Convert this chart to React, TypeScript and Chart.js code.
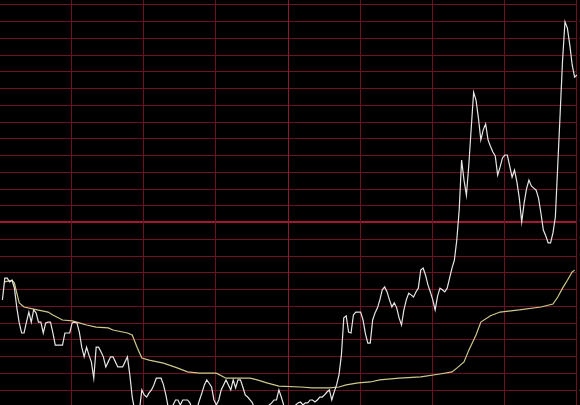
import React, { useEffect, useRef } from "react";
import { Chart, registerables } from "chart.js";

Chart.register(...registerables);

// right-axis percent ticks (labels are clipped by the window edge)
const pctTicks = [5.2, 4.8, 4.4, 4.0, 3.6, 3.2, 2.8, 2.4, 2.0, 1.6, 1.2, 0.8, 0.4, 0, -0.4, -0.8, -1.2, -1.6, -2.0, -2.4, -2.8, -3.2, -3.6, -4.0, -4.4];
// vertical time grid (minutes since open)
const timeGrid = [30, 60, 90, 120, 150, 180, 210, 240];

// price line: one value per minute, minutes 1..240
const priceMinutes = Array.from({ length: 240 }, (_, i) => i + 1);
const pricePct = [
  -1.86, -1.34, -1.34, -1.43, -1.39, -1.58, -2.05, -2.41, -2.65, -2.65,
  -2.39, -2.15, -2.39, -2.10, -2.17, -2.39, -2.39, -2.65, -2.41, -2.39,
  -2.39, -2.65, -2.94, -2.94, -2.94, -2.94, -2.65, -2.65, -2.65, -2.41,
  -2.39, -2.41, -2.63, -2.99, -3.22, -2.99, -3.18, -3.34, -3.73, -2.99,
  -2.99, -3.10, -3.22, -3.46, -3.34, -3.22, -3.22, -3.34, -3.46, -3.46,
  -3.46, -3.34, -3.22, -3.65, -4.18, -4.49, -4.61, -4.49, -4.01, -4.13,
  -4.18, -4.08, -4.01, -3.89, -3.73, -3.73, -3.73, -3.89, -4.13, -4.44,
  -4.54, -4.37, -4.25, -4.25, -4.37, -4.25, -4.25, -4.25, -4.32, -4.49,
  -4.54, -4.44, -4.25, -4.08, -3.89, -3.77, -3.85, -3.94, -4.25, -4.37,
  -4.25, -4.01, -3.89, -3.77, -3.89, -4.01, -3.77, -3.96, -3.77, -3.77,
  -3.94, -4.13, -4.18, -4.25, -4.32, -4.49, -4.54, -4.54, -4.49, -4.44,
  -4.40, -4.37, -4.32, -4.25, -4.25, -4.01, -4.18, -4.37, -4.49, -4.54,
  -4.49, -4.44, -4.37, -4.32, -4.30, -4.37, -4.32, -4.32, -4.25, -4.25,
  -4.30, -4.25, -4.18, -4.18, -4.13, -4.06, -4.01, -4.25, -4.06, -3.89,
  -3.65, -3.18, -2.29, -2.24, -2.63, -2.65, -2.22, -2.15, -2.15, -2.15,
  -2.34, -2.67, -2.89, -2.89, -2.34, -2.17, -2.05, -1.86, -1.62, -1.55,
  -1.67, -1.86, -2.03, -1.93, -2.05, -2.29, -2.46, -2.10, -1.86, -1.70,
  -1.74, -1.79, -1.67, -1.58, -1.15, -1.10, -1.27, -1.50, -1.67, -1.86,
  -2.10, -1.77, -1.58, -1.62, -1.67, -1.58, -1.34, -1.10, -0.91, -0.43,
  0.29, 1.48, 1.00, 0.64, 1.36, 2.24, 3.10, 2.91, 2.48, 1.96,
  2.20, 2.34, 1.96, 1.81, 1.67, 1.58, 1.12, 1.31, 1.53, 1.60,
  1.60, 1.34, 1.07, 1.24, 0.96, 0.57, 0.00, 0.45, 0.79, 1.00,
  0.86, 0.81, 0.76, 0.57, 0.21, -0.19, -0.33, -0.50, -0.50, -0.26,
  0.12, 1.36, 2.60, 3.87, 4.78, 4.63, 4.23, 3.75, 3.46, 3.51,
];

// average-price line
const avgMinutes = [2, 5, 6, 7, 8, 10, 14, 20, 22, 26, 30, 33, 36, 40, 45, 47, 53, 55, 57, 59, 62, 68, 74, 78, 83, 90, 94, 104, 107, 111, 116, 125, 130, 137, 141, 144, 149, 154, 158, 166, 175, 183, 188, 190, 193, 195, 198, 200, 204, 208, 216, 225, 230, 232, 234, 236, 238, 239];
const avgPct = [-1.43, -1.39, -1.46, -1.70, -1.93, -2.03, -2.08, -2.15, -2.22, -2.34, -2.36, -2.41, -2.46, -2.51, -2.53, -2.58, -2.65, -2.70, -2.99, -3.25, -3.30, -3.37, -3.49, -3.58, -3.61, -3.61, -3.73, -3.73, -3.77, -3.84, -3.92, -3.94, -3.96, -3.96, -3.94, -3.89, -3.84, -3.82, -3.77, -3.73, -3.70, -3.63, -3.58, -3.49, -3.34, -3.06, -2.70, -2.39, -2.24, -2.15, -2.10, -2.03, -1.96, -1.79, -1.58, -1.39, -1.19, -1.15];

const Y_MAX = 5.302;
const Y_MIN = -4.37;

const gridPlugin = {
  id: "stockGrid",
  beforeDatasetsDraw(chart: any) {
    const { ctx, chartArea, scales } = chart;
    const xs = scales.x;
    const ys = scales.y;
    ctx.save();
    pctTicks.forEach((v) => {
      const zero = v === 0;
      const y = Math.round(ys.getPixelForValue(v)) + (zero ? 0 : 0.5);
      ctx.strokeStyle = zero ? "#a3182f" : "#701024";
      ctx.lineWidth = zero ? 2 : 1;
      ctx.beginPath();
      ctx.moveTo(0, y);
      ctx.lineTo(chartArea.right, y);
      ctx.stroke();
    });
    timeGrid.forEach((m) => {
      const x = Math.round(xs.getPixelForValue(m)) - 0.5;
      ctx.strokeStyle = m === 120 ? "#8c1a30" : "#701024";
      ctx.lineWidth = 1;
      ctx.beginPath();
      ctx.moveTo(x, 0);
      ctx.lineTo(x, chart.height);
      ctx.stroke();
    });
    ctx.restore();
  },
  afterDraw(chart: any) {
    const { ctx, chartArea, scales } = chart;
    const ys = scales.y;
    ctx.save();
    ctx.font = "12px 'DejaVu Sans'";
    ctx.textAlign = "left";
    ctx.textBaseline = "middle";
    pctTicks.forEach((v) => {
      const y = ys.getPixelForValue(v);
      ctx.fillStyle = v > 0 ? "#c02838" : v < 0 ? "#1ea01e" : "#7070ff";
      ctx.fillText(Math.abs(v).toFixed(2) + "%", chartArea.right + 2, y);
    });
    ctx.restore();
  },
};

export default function App() {
  const ref = useRef<HTMLCanvasElement | null>(null);
  useEffect(() => {
    document.body.style.margin = "0";
    document.body.style.background = "#000";
    const canvas = ref.current;
    if (!canvas) return;
    const chart = new Chart(canvas, {
      type: "line",
      data: {
        datasets: [
          {
            label: "price",
            data: priceMinutes.map((m, i) => ({ x: m, y: pricePct[i] })),
            borderColor: "#e6e6e6",
            borderWidth: 1.2,
            pointRadius: 0,
            tension: 0,
          },
          {
            label: "avg",
            data: avgMinutes.map((m, i) => ({ x: m, y: avgPct[i] })),
            borderColor: "#cfc88a",
            borderWidth: 1.2,
            pointRadius: 0,
            tension: 0,
          },
        ],
      },
      options: {
        animation: false,
        responsive: false,
        maintainAspectRatio: false,
        layout: { padding: { left: 0, right: 3, top: 0, bottom: 0 } },
        plugins: { legend: { display: false }, tooltip: { enabled: false } },
        scales: {
          x: { type: "linear", min: 0, max: 240, display: false },
          y: { type: "linear", min: Y_MIN, max: Y_MAX, display: false },
        },
      },
      plugins: [gridPlugin],
    });
    return () => chart.destroy();
  }, []);
  return (
    <div style={{ position: "fixed", left: 0, top: 0, width: 580, height: 405, background: "#000", overflow: "hidden" }}>
      <canvas ref={ref} width={580} height={405} style={{ display: "block" }} />
    </div>
  );
}
